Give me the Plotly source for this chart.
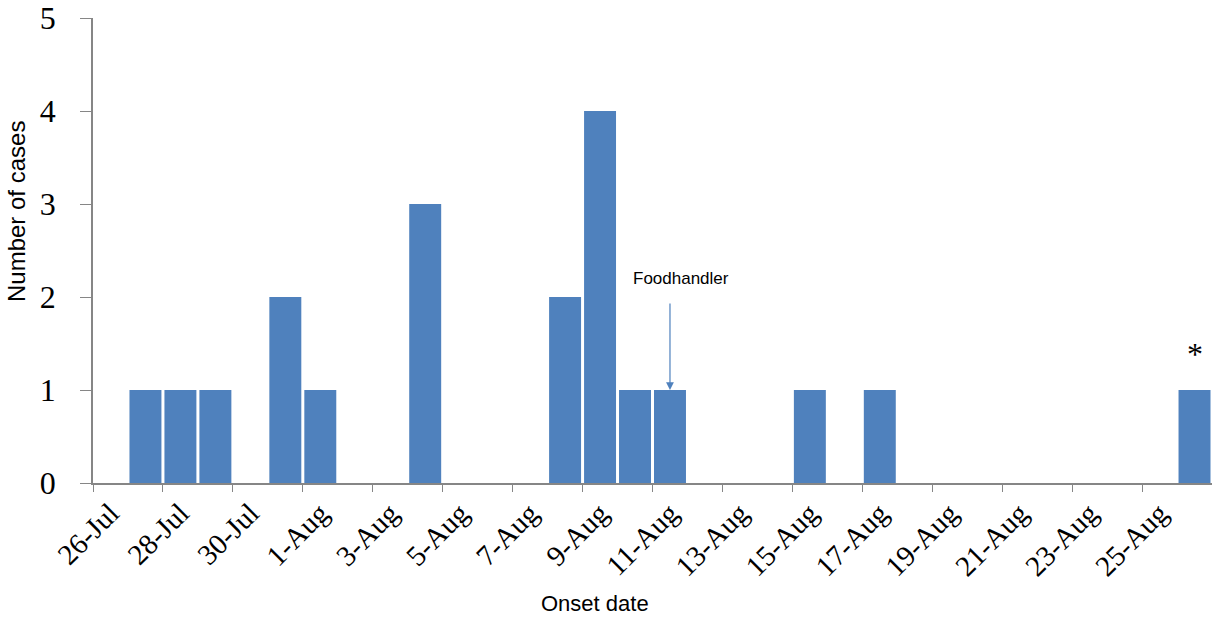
import plotly.graph_objects as go

dates = ["26-Jul", "27-Jul", "28-Jul", "29-Jul", "30-Jul", "31-Jul",
         "1-Aug", "2-Aug", "3-Aug", "4-Aug", "5-Aug", "6-Aug", "7-Aug",
         "8-Aug", "9-Aug", "10-Aug", "11-Aug", "12-Aug", "13-Aug", "14-Aug",
         "15-Aug", "16-Aug", "17-Aug", "18-Aug", "19-Aug", "20-Aug", "21-Aug",
         "22-Aug", "23-Aug", "24-Aug", "25-Aug", "26-Aug"]
cases = [0, 1, 1, 1, 0, 2,
         1, 0, 0, 3, 0, 0, 0,
         2, 4, 1, 1, 0, 0, 0,
         1, 0, 1, 0, 0, 0, 0,
         0, 0, 0, 0, 1]
foodhandler_date = "11-Aug"
asterisk_date = "26-Aug"

BAR = "#4F81BD"
AXIS = "#868686"
W, H = 1212, 619
# plot area in window pixels: x 93..1212, y 18..483
L, R, T, B = 93, 0, 18, 619 - 483
pw, ph = W - L - R, H - T - B

def px_to_paper(xp, yp):
    return (xp - L) / pw, (H - B - yp) / ph

fig = go.Figure()
fig.add_trace(go.Bar(x=dates, y=cases, marker=dict(color=BAR, line=dict(width=0)),
                     showlegend=False, hoverinfo="x+y", cliponaxis=False))

fig.update_layout(
    width=W, height=H,
    margin=dict(l=L, r=R, t=T, b=B, autoexpand=False),
    plot_bgcolor="white", paper_bgcolor="white",
    bargap=0.086,
    xaxis=dict(type="category", categoryorder="array", categoryarray=dates,
               range=[-0.5, len(dates) - 0.5], automargin=False,
               tickmode="linear", tick0=0, dtick=2, tickson="boundaries",
               ticks="outside", ticklen=7, tickcolor=AXIS, tickwidth=1,
               showline=True, linecolor=AXIS, linewidth=1.5,
               showgrid=False, zeroline=False,
               tickangle=-45, ticklabeloverflow="allow",
               tickfont=dict(family="Liberation Serif", size=29, color="black")),
    yaxis=dict(range=[0, 5], tickmode="linear", tick0=0, dtick=1, automargin=False,
               ticks="outside", ticklen=11, tickcolor=AXIS, tickwidth=1,
               showline=True, linecolor=AXIS, linewidth=1.5,
               showgrid=False, zeroline=False,
               ticklabelstandoff=18, ticklabeloverflow="allow",
               tickfont=dict(family="Liberation Serif", size=32, color="black")),
)

xt, yt = px_to_paper(595, 603)
fig.add_annotation(text="Onset date", xref="paper", yref="paper", x=xt, y=yt,
                   showarrow=False, xanchor="center", yanchor="middle",
                   font=dict(family="Liberation Sans", size=22, color="black"))
xt, yt = px_to_paper(16, 212)
fig.add_annotation(text="Number of cases", xref="paper", yref="paper", x=xt, y=yt,
                   showarrow=False, xanchor="center", yanchor="middle", textangle=-90,
                   font=dict(family="Liberation Sans", size=24, color="black"))

fh_y = cases[dates.index(foodhandler_date)]
fig.add_annotation(text="", x=foodhandler_date, y=fh_y,
                   xref="x", yref="y", showarrow=True, ax=0, ay=-88,
                   arrowhead=2, arrowsize=1.3, arrowwidth=1.2, arrowcolor=BAR,
                   standoff=0)
fig.add_annotation(text="Foodhandler", x=foodhandler_date, y=fh_y,
                   xref="x", yref="y", showarrow=False, xshift=11, yshift=112,
                   xanchor="center", yanchor="middle",
                   font=dict(family="Liberation Sans", size=17, color="black"))

fig.add_annotation(text="*", x=asterisk_date, y=cases[dates.index(asterisk_date)],
                   xref="x", yref="y", showarrow=False, yanchor="middle", yshift=36,
                   font=dict(family="Liberation Serif", size=32, color="black"))

fig.write_html("out.html", config={"displayModeBar": False},
               post_script="document.body.style.margin='0';")
